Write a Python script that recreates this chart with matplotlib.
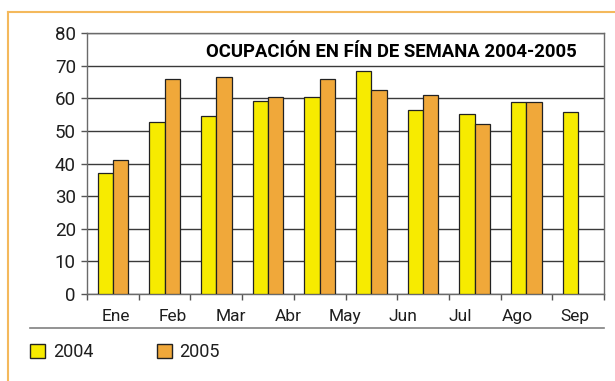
import matplotlib
matplotlib.use("Agg")
import matplotlib.pyplot as plt
from matplotlib.lines import Line2D
from matplotlib.patches import Patch
from matplotlib.transforms import blended_transform_factory
import numpy as np

plt.rcParams['font.family'] = ['Roboto', 'DejaVu Sans']

months = ["Ene", "Feb", "Mar", "Abr", "May", "Jun", "Jul", "Ago", "Sep"]
occ_2004 = [37, 52.7, 54.7, 59.3, 60.5, 68.4, 56.4, 55.1, 58.8, 55.8]
occ_2005 = [41, 66.0, 66.6, 60.4, 66.0, 62.6, 61.1, 52.1, 58.9]
series_names = ["2004", "2005"]
title = "OCUPACIÓN EN FÍN DE SEMANA 2004-2005"

YELLOW = "#F7EB00"
ORANGE = "#F0A83A"
FRAME = "#F4B95C"
TXT = "#1e1e1e"

W, H = 615, 381
fig = plt.figure(figsize=(W / 100, H / 100), dpi=100)
fig.patch.set_facecolor("white")

# outer decorative frame (top and left edges)
fig.add_artist(Line2D([8 / W, 1.0], [1 - 12 / H, 1 - 12 / H], color=FRAME, lw=1.5))
fig.add_artist(Line2D([8 / W, 8 / W], [0, 1 - 12 / H], color=FRAME, lw=1.5))

ax = fig.add_axes([87 / W, 1 - 294 / H, (604 - 87) / W, (294 - 33.3) / H])

bw = 0.296
x4 = np.arange(len(occ_2004)) + 0.5
x5 = np.arange(len(occ_2005)) + 0.5
ax.bar(x4 - bw / 2, occ_2004, width=bw, color=YELLOW, edgecolor="#222222", lw=0.9, zorder=3)
ax.bar(x5 + bw / 2, occ_2005, width=bw, color=ORANGE, edgecolor="#222222", lw=0.9, zorder=3)

ax.set_xlim(0, len(occ_2004))
ax.set_ylim(0, 80)
ax.set_yticks(np.arange(0, 81, 10))
ax.yaxis.grid(True, color="#3a3a3a", lw=1.0, zorder=0)
ax.set_axisbelow(True)
ax.set_xticks(np.arange(0, len(occ_2004) + 1))
ax.set_xticklabels([])
ax.tick_params(axis="both", direction="out", length=4, width=1, color="#555555")
ax.tick_params(axis="y", labelsize=13.5, pad=4, labelcolor=TXT)
for s in ax.spines.values():
    s.set_color("#6a6a6a")
    s.set_linewidth(1.0)

# month labels spread evenly across the axis
trans = blended_transform_factory(ax.transData, ax.transAxes)
n = len(months)
span = len(occ_2004)
for j, m in enumerate(months):
    ax.text((j + 0.5) * span / n, -0.1036, m, transform=trans, ha="center", va="baseline",
            fontsize=12.5, color=TXT)

ax.text(0.948, 0.910, title, transform=ax.transAxes, ha="right", va="baseline",
        fontsize=13.3, fontweight="bold", color="black", zorder=4)

# rule under the month labels
fig.add_artist(Line2D([30 / W, 604 / W], [1 - 327.7 / H, 1 - 327.7 / H], color="#808080", lw=1.2))

handles = [Patch(facecolor=YELLOW, edgecolor="#222222", lw=1),
           Patch(facecolor=ORANGE, edgecolor="#222222", lw=1)]
leg = fig.legend(handles, series_names, loc="center left", bbox_to_anchor=(30 / W, 1 - 352 / H),
                 ncol=2, frameon=False, prop={"size": 13},
                 handlelength=0.83, handleheight=0.83,
                 handletextpad=0.44, columnspacing=3.5, borderaxespad=0, borderpad=0)
for t in leg.get_texts():
    t.set_color(TXT)

fig.savefig("out.png", dpi=100)
